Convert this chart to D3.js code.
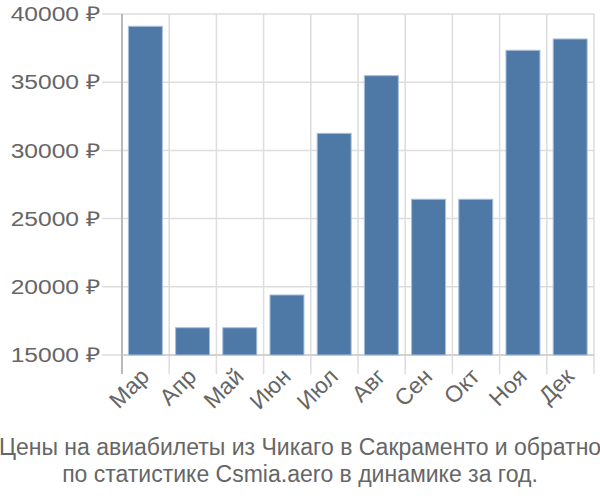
<!DOCTYPE html>
<html><head><meta charset="utf-8">
<script src="https://cdn.jsdelivr.net/npm/d3@7"></script>
<style>body{margin:0;background:#fff;} text{font-family:"Liberation Sans",Arial,sans-serif;fill:#666;}</style>
</head><body><svg id="c" width="600" height="500"></svg>
<script>
const months = ["Мар","Апр","Май","Июн","Июл","Авг","Сен","Окт","Ноя","Дек"];
const prices = [39100, 17000, 17000, 19400, 31250, 35480, 26420, 26420, 37340, 38170];
const yTicks = [15000, 20000, 25000, 30000, 35000, 40000];
const titleLines = ["Цены на авиабилеты из Чикаго в Сакраменто и обратно","по статистике Csmia.aero в динамике за год."];

const svg = d3.select("#c");
const L = 122, R = 594, T = 14, B = 355;
const x = d3.scaleBand().domain(months).range([L, R]).padding(0);
const y = d3.scaleLinear().domain([15000, 40000]).range([B, T]);

const g = svg.append("g");
// horizontal grid
g.selectAll(".hg").data(yTicks).join("line")
  .attr("x1", L - 20).attr("x2", R).attr("y1", d => y(d)).attr("y2", d => y(d))
  .attr("stroke", "#ddd").attr("stroke-width", 1.5);
// vertical grid at band boundaries
const bounds = months.map(m => x(m)).concat([R]);
g.selectAll(".vg").data(bounds).join("line")
  .attr("x1", d => d).attr("x2", d => d).attr("y1", T).attr("y2", B + 19)
  .attr("stroke", "#ddd").attr("stroke-width", 1.5);
// axis lines
g.append("line").attr("x1", L).attr("x2", L).attr("y1", T).attr("y2", B + 19).attr("stroke", "#aaa").attr("stroke-width", 1.5);
g.append("line").attr("x1", L).attr("x2", R).attr("y1", B).attr("y2", B).attr("stroke", "#ccc").attr("stroke-width", 1.5);

// bars
const bw = x.bandwidth();
g.selectAll(".bar").data(months).join("rect")
  .attr("x", (d) => x(d) + bw * 0.135)
  .attr("width", bw * 0.72)
  .attr("y", (d, i) => y(prices[i]))
  .attr("height", (d, i) => B - y(prices[i]))
  .attr("fill", "#4e79a7").attr("stroke", "#a9bfd9").attr("stroke-width", 1);

// y labels (horizontally stretched like the reference)
g.selectAll(".yl").data(yTicks).join("text")
  .attr("text-anchor", "end").attr("font-size", 20.5)
  .attr("transform", d => `translate(100,${y(d)}) scale(1.2,1)`)
  .attr("dy", "0.35em")
  .text(d => d + " ₽");

// x labels
g.selectAll(".xl").data(months).join("text")
  .attr("text-anchor", "end").attr("font-size", 23)
  .attr("transform", d => `translate(${x(d) + bw / 2 + 5},${B + 23}) rotate(-45)`)
  .text(d => d);

// title
svg.selectAll(".t").data(titleLines).join("text")
  .attr("x", 300).attr("y", (d, i) => 455 + i * 27)
  .attr("text-anchor", "middle").attr("font-size", 23)
  .text(d => d);
</script></body></html>
